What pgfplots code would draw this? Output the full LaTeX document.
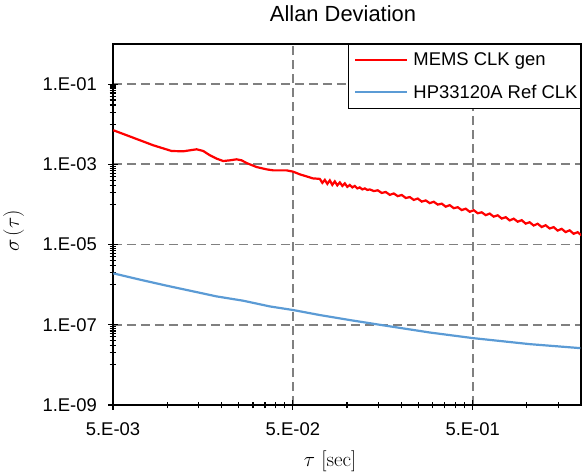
\RequirePackage{fix-cm}
\documentclass[border=0pt]{standalone}
\usepackage{fontspec}
\newfontfamily\arial{Liberation Sans}
\usepackage{pgfplots}
\pgfplotsset{compat=1.18}
\definecolor{memsred}{RGB}{255,0,0}
\definecolor{hpblue}{RGB}{91,155,213}
\definecolor{gridgray}{RGB}{128,128,128}
\newcommand{\tickfont}{\arial\fontsize{18.5}{22}\selectfont}
\begin{document}
\begin{tikzpicture}
\begin{axis}[
  at={(0,0)}, anchor=south west,
  scale only axis, width=468bp, height=361bp,
  xmode=log, ymode=log,
  xmin=0.005, xmax=2, ymin=1e-9, ymax=1,
  axis line style={black, line width=1.5bp},
  xtick={0.005,0.05,0.5}, xticklabels={5.E-03,5.E-02,5.E-01},
  ytick={1e-9,1e-7,1e-5,1e-3,1e-1}, yticklabels={1.E-09,1.E-07,1.E-05,1.E-03,1.E-01},
  minor xtick={0.01,0.015,0.02,0.025,0.03,0.035,0.04,0.045,0.1,0.15,0.2,0.25,0.3,0.35,0.4,0.45,1,1.5},
  minor ytick={1e-8,2e-8,3e-8,4e-8,5e-8,6e-8,7e-8,8e-8,9e-8,
               1e-6,2e-6,3e-6,4e-6,5e-6,6e-6,7e-6,8e-6,9e-6,
               1e-4,2e-4,3e-4,4e-4,5e-4,6e-4,7e-4,8e-4,9e-4,
               1e-2,2e-2,3e-2,4e-2,5e-2,6e-2,7e-2,8e-2,9e-2},
  xtick pos=bottom, ytick pos=left,
  tick align=center,
  major tick length=10bp, minor tick length=7bp,
  tick style={black, line width=1.2bp},
  grid=major,
  major grid style={gridgray, line width=1.7bp, dash pattern=on 9bp off 5bp},
  tick label style={font=\tickfont, inner sep=0pt},
  xticklabel style={yshift=-12bp},
  yticklabel style={xshift=-11bp},
  title={Allan Deviation},
  title style={at={(axis description cs:0.4915,1)}, anchor=base, yshift=16.3bp, font=\arial\fontsize{22}{26}\selectfont},
  xlabel={$\tau$ [sec]},
  xlabel style={at={(axis description cs:0.4637,-0.1717)}, anchor=base, font=\fontsize{21}{24}\selectfont},
  ylabel={$\sigma\,(\tau)$},
  ylabel style={at={(axis description cs:-0.2009,0.482)}, anchor=base, font=\fontsize{21}{24}\selectfont},
  legend style={at={(1,1)}, anchor=north east, draw=black, line width=1.2bp, fill=white,
    font=\tickfont, inner xsep=3bp, inner ysep=8.5bp, row sep=17.5bp, column sep=5bp,
    nodes={inner sep=0pt},
    column 2/.style={nodes={text height=13.5bp, text depth=4bp}}},
  legend cell align=left,
  legend image code/.code={\path (0bp,0bp); \draw[#1] (3bp,0bp) -- (55bp,0bp);},
]
\addplot[memsred, line width=2.2bp] coordinates {
(0.005020,7.079e-3) (0.005958,5.309e-3) (0.007063,3.981e-3) (0.008374,2.985e-3)
(0.01059,2.150e-3) (0.01229,2.113e-3) (0.01459,2.371e-3) (0.01588,2.150e-3)
(0.01729,1.679e-3) (0.01884,1.388e-3) (0.02050,1.209e-3) (0.02234,1.259e-3)
(0.02433,1.334e-3) (0.02594,1.259e-3) (0.02765,1.078e-3) (0.03143,8.561e-4)
(0.03572,7.499e-4) (0.03887,7.079e-4) (0.04613,7.079e-4) (0.05020,6.569e-4)
(0.05468,5.623e-4) (0.05957,5.012e-4) (0.06457,4.467e-4)
(0.07063,4.34e-4) (0.07294,3.45e-4) (0.07530,4.10e-4) (0.07775,3.26e-4)
(0.08027,3.98e-4) (0.08286,3.07e-4) (0.08555,3.76e-4) (0.08832,2.99e-4)
(0.09123,3.55e-4) (0.09419,2.90e-4) (0.09725,3.35e-4) (0.1004,2.74e-4)
(0.1037,3.07e-4) (0.1071,2.66e-4) (0.1105,2.90e-4) (0.1141,2.51e-4)
(0.1178,2.66e-4) (0.1217,2.37e-4) (0.1256,2.51e-4) (0.1297,2.30e-4)
(0.1339,2.371e-4) (0.1409,2.157e-4) (0.1483,2.253e-4) (0.1561,1.935e-4)
(0.1643,2.044e-4) (0.1729,1.736e-4) (0.1820,1.877e-4) (0.1916,1.612e-4)
(0.2016,1.722e-4) (0.2122,1.446e-4) (0.2234,1.528e-4) (0.2351,1.297e-4)
(0.2474,1.402e-4) (0.2604,1.177e-4) (0.2741,1.258e-4) (0.2885,1.080e-4)
(0.3036,1.168e-4) (0.3196,9.915e-5) (0.3364,1.047e-4) (0.3540,8.794e-5)
(0.3726,9.616e-5) (0.3922,8.070e-5) (0.4128,8.526e-5) (0.4344,7.240e-5)
(0.4572,7.826e-5) (0.4813,6.568e-5) (0.5065,7.185e-5) (0.5331,6.031e-5)
(0.5611,6.372e-5) (0.5906,5.408e-5) (0.6216,5.916e-5) (0.6543,4.965e-5)
(0.6886,5.368e-5) (0.7248,4.452e-5) (0.7629,4.815e-5) (0.8029,3.995e-5)
(0.8451,4.418e-5) (0.8894,3.710e-5) (0.9359,4.057e-5) (0.9849,3.327e-5)
(1.0366,3.597e-5) (1.0910,2.984e-5) (1.1483,3.302e-5) (1.2086,2.740e-5)
(1.2720,3.030e-5) (1.3389,2.515e-5) (1.4091,2.719e-5) (1.4832,2.230e-5)
(1.5610,2.467e-5) (1.6429,2.047e-5) (1.7291,2.265e-5) (1.8197,1.858e-5)
(1.9155,2.032e-5) (2.016,1.685e-5)
};
\addlegendentry{MEMS CLK gen}
\addplot[hpblue, line width=2.2bp] coordinates {
(0.005020,1.916e-6) (0.007063,1.334e-6) (0.009938,9.441e-7) (0.01884,5.098e-7)
(0.02648,3.981e-7) (0.03726,2.867e-7) (0.05020,2.331e-7) (0.07063,1.748e-7)
(0.1037,1.311e-7) (0.1522,1.0e-7) (0.2885,6.419e-8) (0.5020,4.649e-8)
(1.037,3.293e-8) (1.983,2.616e-8)
};
\addlegendentry{HP33120A Ref CLK}
\end{axis}
\pgfresetboundingbox
\useasboundingbox (-113bp,-67bp) rectangle (469bp,405bp);
\end{tikzpicture}
\end{document}
